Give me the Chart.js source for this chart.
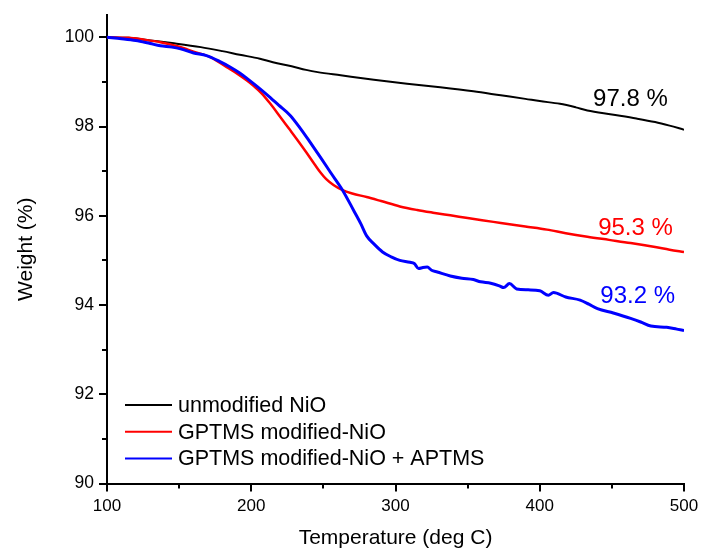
<!DOCTYPE html>
<html>
<head>
<meta charset="utf-8">
<script src="https://cdn.jsdelivr.net/npm/chart.js@4/dist/chart.umd.min.js"></script>
<style>
  html, body { margin: 0; padding: 0; background: #fff; overflow: hidden; }
  canvas { display: block; }
</style>
</head>
<body>
<canvas id="c" width="701" height="551"></canvas>
<script>
// ---- Data ----
const seriesLabels = ["unmodified NiO", "GPTMS modified-NiO", "GPTMS modified-NiO + APTMS"];
const seriesColors = ["#000000", "#ff0000", "#0000ff"];

const tempUnmodified = [100,115,130,145,165,180,192,206,215,228,238,246,262,285,308,331,354,373,390,400,414,425,433,450,467,480,490,500];
const weightUnmodified = [100.0,99.99,99.93,99.87,99.78,99.69,99.61,99.52,99.44,99.35,99.27,99.22,99.15,99.05,98.96,98.88,98.79,98.70,98.62,98.57,98.51,98.43,98.36,98.27,98.18,98.10,98.02,97.93];

const tempGptms = [100,115,125,137,150,160,172,183,190,197,202,207,213,220,226,232,238,244,248,252,257,263,270,280,290,303,315,326,338,350,360,373,390,405,418,433,448,463,480,490,500];
const weightGptms = [100.0,99.99,99.95,99.89,99.79,99.68,99.55,99.33,99.19,99.03,98.90,98.75,98.52,98.22,97.96,97.70,97.43,97.15,96.97,96.82,96.69,96.58,96.50,96.42,96.33,96.21,96.13,96.07,96.01,95.95,95.90,95.84,95.76,95.69,95.61,95.53,95.46,95.39,95.30,95.24,95.19];

const tempAptms = [100,110,120,130,137,145,151,160,169,178,185,192,197,204,211,219,227,234,241,248,255,263,271,276,280,285,291,297,303,310,313,316,319,322,325,329,338,346,354,359,366,372,375,379,384,392,400,406,409.5,418,428,434,440,451,463,470,477,488,495,500];
const weightAptms = [100.0,99.97,99.93,99.86,99.81,99.78,99.74,99.65,99.59,99.46,99.34,99.20,99.08,98.90,98.71,98.48,98.25,97.96,97.64,97.31,96.97,96.59,96.12,95.82,95.55,95.37,95.19,95.08,95.00,94.96,94.93,94.82,94.84,94.85,94.78,94.74,94.65,94.60,94.57,94.52,94.49,94.43,94.39,94.48,94.36,94.34,94.32,94.22,94.28,94.18,94.11,94.02,93.92,93.82,93.70,93.62,93.53,93.50,93.46,93.43];

const xMajorTicks = [100, 200, 300, 400, 500];
const xMinorTicks = [150, 250, 350, 450];
const yMajorTicks = [90, 92, 94, 96, 98, 100];
const yMinorTicks = [91, 93, 95, 97, 99];

const finalLabels = ["97.8 %", "95.3 %", "93.2 %"];
const finalLabelTemps = [437, 440.5, 442];
const finalLabelWeights = [98.47, 95.56, 94.04];

// ---- Build ----
const FONT = "'Liberation Sans', Arial, sans-serif";
const toXY = (xs, ys) => xs.map((x, i) => ({ x: x, y: ys[i] }));

const datasets = [
  { label: seriesLabels[0], data: toXY(tempUnmodified, weightUnmodified), borderColor: seriesColors[0], borderWidth: 2, order: 2 },
  { label: seriesLabels[1], data: toXY(tempGptms, weightGptms), borderColor: seriesColors[1], borderWidth: 2.5, order: 1 },
  { label: seriesLabels[2], data: toXY(tempAptms, weightAptms), borderColor: seriesColors[2], borderWidth: 3, order: 0 }
].map(d => Object.assign(d, { pointRadius: 0, fill: false, cubicInterpolationMode: 'monotone', backgroundColor: d.borderColor }));

const extras = {
  id: 'extras',
  afterDraw(chart) {
    const ctx = chart.ctx;
    const xs = chart.scales.x, ys = chart.scales.y;
    const area = chart.chartArea;
    ctx.save();
    // minor ticks
    ctx.strokeStyle = '#000';
    ctx.lineWidth = 2;
    ctx.beginPath();
    yMinorTicks.forEach(v => {
      const py = Math.round(ys.getPixelForValue(v));
      ctx.moveTo(area.left - 5, py);
      ctx.lineTo(area.left, py);
    });
    xMinorTicks.forEach(v => {
      const px = Math.round(xs.getPixelForValue(v));
      ctx.moveTo(px, area.bottom);
      ctx.lineTo(px, area.bottom + 5);
    });
    ctx.stroke();

    // final value labels
    ctx.font = "24px " + FONT;
    ctx.textBaseline = 'alphabetic';
    ctx.textAlign = 'left';
    finalLabels.forEach((t, i) => {
      ctx.fillStyle = seriesColors[i];
      ctx.fillText(t, xs.getPixelForValue(finalLabelTemps[i]), ys.getPixelForValue(finalLabelWeights[i]));
    });

    // legend
    const lx = area.left + 18, ly = 405, rowH = 26.7;
    ctx.font = "21.5px " + FONT;
    ctx.textBaseline = 'middle';
    chart.data.datasets.forEach((d, i) => {
      const y = ly + i * rowH;
      ctx.strokeStyle = d.borderColor;
      ctx.lineWidth = 2;
      ctx.beginPath();
      ctx.moveTo(lx, y);
      ctx.lineTo(lx + 47, y);
      ctx.stroke();
      ctx.fillStyle = '#000';
      ctx.fillText(d.label, lx + 53, y + 1);
    });
    ctx.restore();
  }
};

new Chart(document.getElementById('c'), {
  type: 'line',
  data: { datasets: datasets },
  options: {
    responsive: false,
    devicePixelRatio: 1,
    animation: false,
    layout: { padding: { top: 15, right: 17, bottom: 0, left: 0 } },
    plugins: { legend: { display: false }, tooltip: { enabled: false } },
    scales: {
      x: {
        type: 'linear',
        min: 100, max: 500,
        afterBuildTicks: s => { s.ticks = xMajorTicks.map(v => ({ value: v })); },
        afterFit: s => { s.height = 67.5; s.paddingLeft = 0; s.paddingRight = 0; },
        border: { display: true, color: '#000', width: 2 },
        grid: { drawOnChartArea: false, drawTicks: true, tickLength: 8, color: '#000', lineWidth: 2 },
        ticks: { color: '#000', font: { family: FONT, size: 17 }, padding: 5, maxRotation: 0 },
        title: { display: true, text: 'Temperature (deg C)', color: '#000', font: { family: FONT, size: 21 }, padding: { top: 0, bottom: 0 } }
      },
      y: {
        type: 'linear',
        min: 90, max: 100.5,
        afterBuildTicks: s => { s.ticks = yMajorTicks.map(v => ({ value: v })); },
        afterFit: s => { s.width = 107; s.paddingTop = 0; s.paddingBottom = 0; },
        border: { display: true, color: '#000', width: 2 },
        grid: { drawOnChartArea: false, drawTicks: true, tickLength: 8, color: '#000', lineWidth: 2 },
        ticks: { color: '#000', font: { family: FONT, size: 17.5 }, padding: 5 },
        title: { display: true, text: 'Weight (%)', color: '#000', font: { family: FONT, size: 21 }, padding: { top: 14, bottom: 0 } }
      }
    }
  },
  plugins: [extras]
});
</script>
</body>
</html>
